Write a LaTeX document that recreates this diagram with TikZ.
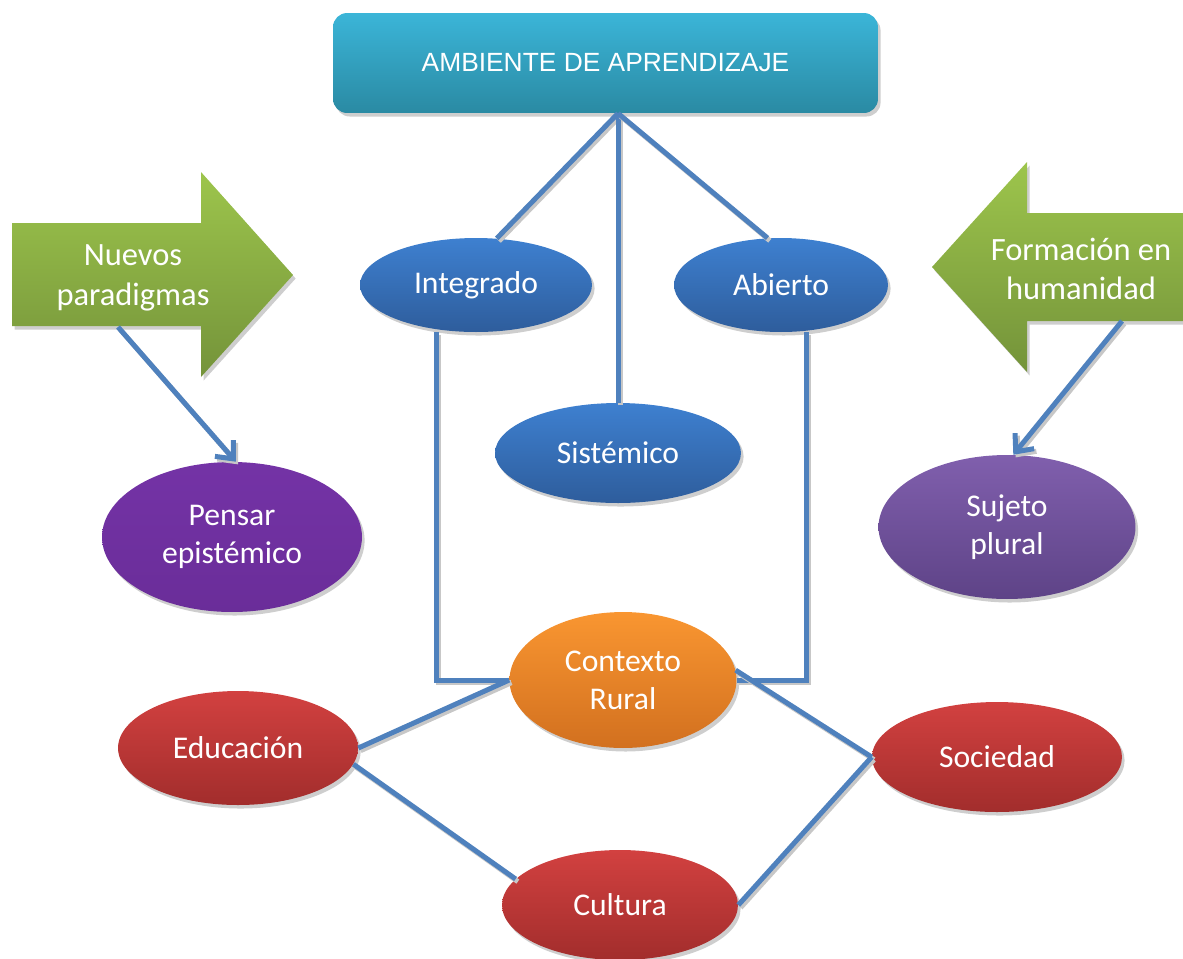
\documentclass[tikz,border=0pt]{standalone}
\usepackage{fontspec}
\setmainfont{Carlito}
\newfontfamily\arialfont{Liberation Sans}
\usetikzlibrary{shapes.geometric,arrows.meta,shadows,calc}
\definecolor{linkblue}{HTML}{4F81BD}
\definecolor{ambtop}{HTML}{3BB5D8}
\definecolor{ambbot}{HTML}{2A8AA3}
\definecolor{bluetop}{HTML}{3E80D0}
\definecolor{bluebot}{HTML}{2E5D9C}
\definecolor{purtop}{HTML}{7433A6}
\definecolor{purbot}{HTML}{6A2D99}
\definecolor{lavtop}{HTML}{805FAD}
\definecolor{lavbot}{HTML}{5E4387}
\definecolor{orgtop}{HTML}{F99631}
\definecolor{orgbot}{HTML}{D2701F}
\definecolor{redtop}{HTML}{D24140}
\definecolor{redbot}{HTML}{A22D2C}
\definecolor{grntop}{HTML}{9DC54C}
\definecolor{grnbot}{HTML}{74933A}
\begin{document}
\begin{tikzpicture}[x=0.02cm,y=-0.02cm,
  softshadow/.style={drop shadow={shadow xshift=1.5pt,shadow yshift=-2pt,fill=black!35,opacity=0.55}},
  bubble/.style={ellipse,inner sep=0pt,text=white,align=center,
    font=\fontsize{18pt}{21.5pt}\selectfont,softshadow},
  bluebub/.style={bubble,top color=bluetop,bottom color=bluebot},
  purbub/.style={bubble,top color=purtop,bottom color=purbot},
  lavbub/.style={bubble,top color=lavtop,bottom color=lavbot},
  orgbub/.style={bubble,top color=orgtop,bottom color=orgbot},
  redbub/.style={bubble,top color=redtop,bottom color=redbot},
  greenarrow/.style={top color=grntop,bottom color=grnbot,softshadow},
  arrowtext/.style={text=white,align=center,font=\fontsize{18.5pt}{22.5pt}\selectfont},
  conn/.style={draw=linkblue,line width=2.85pt,
    preaction={draw=black!22,line width=2.85pt,transform canvas={xshift=1.3pt,yshift=-1.5pt}}},
  tipped/.style={conn,-{Straight Barb[length=8pt,width=14pt]}}
]
\useasboundingbox (0,0) rectangle (1183,958);

% top box
\node[rounded corners=8pt,minimum width=10.9cm,minimum height=2cm,
  top color=ambtop,bottom color=ambbot,text=white,softshadow,
  font=\arialfont\fontsize{15pt}{18pt}\selectfont] (amb) at (605.5,63) {AMBIENTE DE APRENDIZAJE};

% green arrows
\path[greenarrow] (12,223) -- (201,223) -- (201,172) -- (293,275) -- (201,377) -- (201,326) -- (12,326) -- cycle;
\node[arrowtext] (nuevos) at (133,278) {Nuevos\\paradigmas};
\path[greenarrow] (1183,213) -- (1027,213) -- (1027,162) -- (932,267) -- (1027,372) -- (1027,321) -- (1183,321) -- cycle;
\node[arrowtext] (formacion) at (1081,269) {Formación en\\humanidad};
\coordinate (nuevosfoot) at (118,327);
\coordinate (formfoot) at (1122,321);

% ellipses
\node[bluebub,minimum width=4.64cm,minimum height=1.88cm] (integ) at (476,285) {Integrado};
\node[bluebub,minimum width=4.28cm,minimum height=1.88cm] (abierto) at (781,285) {Abierto};
\node[bluebub,minimum width=4.92cm,minimum height=2.0cm] (sistem) at (618,453) {Sistémico};
\node[purbub,minimum width=5.2cm,minimum height=3.0cm] (pensar) at (232,537) {Pensar\\epistémico};
\node[lavbub,minimum width=5.14cm,minimum height=2.88cm] (sujeto) at (1007,527) {Sujeto\\plural};
\node[orgbub,minimum width=4.54cm,minimum height=2.72cm] (contexto) at (623,680) {Contexto\\Rural};
\node[redbub,minimum width=4.8cm,minimum height=2.28cm] (educ) at (238,748) {Educación};
\node[redbub,minimum width=5.0cm,minimum height=2.2cm] (socied) at (997,757) {Sociedad};
\node[redbub,minimum width=4.72cm,minimum height=2.2cm] (cultura) at (620,905) {Cultura};

% connectors
\coordinate (apex) at (sistem.north |- amb.south);
\draw[conn] (integ.66) -- (apex);
\draw[conn] (sistem.north) -- (apex);
\draw[conn] (abierto.106) -- (apex);
\draw[conn] ($(integ.south)+(-40,0)$) |- (contexto.west);
\draw[conn] ($(abierto.south)+(25,0)$) |- (contexto.east);
\draw[conn] (contexto.west) -- (educ.east);
\draw[conn] (educ.-8) -- (cultura.166);
\draw[conn] (contexto.5) -- (socied.west);
\draw[conn] (socied.west) -- (cultura.east);
\draw[tipped] (nuevosfoot) -- (pensar.87);
\draw[tipped] (formfoot) -- (sujeto.85);
\end{tikzpicture}
\end{document}
